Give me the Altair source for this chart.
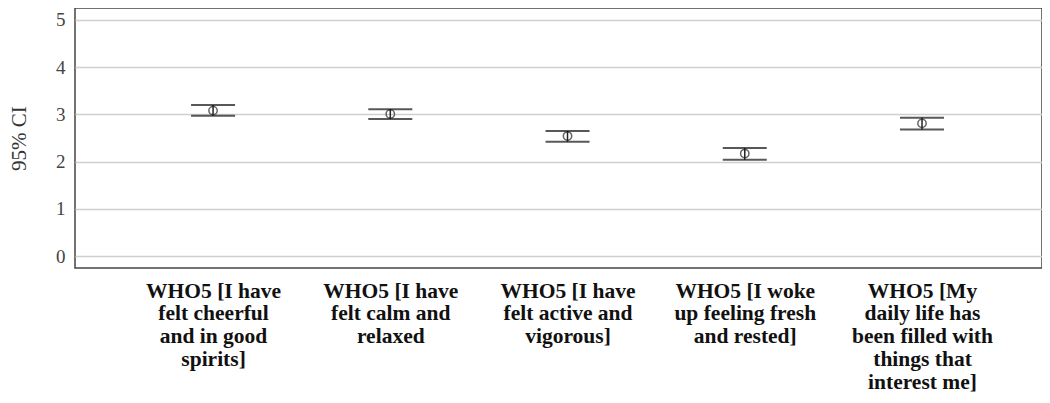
import altair as alt
import pandas as pd

items = [
    "WHO5 [I have|felt cheerful|and in good|spirits]",
    "WHO5 [I have|felt calm and|relaxed",
    "WHO5 [I have|felt active and|vigorous]",
    "WHO5 [I woke|up feeling fresh|and rested]",
    "WHO5 [My|daily life has|been filled with|things that|interest me]",
]
means = [3.08, 3.01, 2.54, 2.17, 2.81]
lower = [2.97, 2.90, 2.42, 2.04, 2.68]
upper = [3.20, 3.11, 2.65, 2.29, 2.93]
y_ticks = [0, 1, 2, 3, 4, 5]

SERIF = "Liberation Serif, Times New Roman, serif"

df = pd.DataFrame({"item": items, "mean": means, "lower": lower, "upper": upper})

x_enc = alt.X(
    "item:N",
    sort=items,
    title=None,
    scale=alt.Scale(type="point", padding=0.728, align=0.535),
    axis=alt.Axis(
        labelExpr="split(datum.label, '|')",
        labelAngle=0,
        labelFont=SERIF,
        labelFontWeight="bold",
        labelFontSize=21.5,
        labelLineHeight=22.8,
        labelColor="#111",
        labelPadding=12,
        labelBaseline="top",
        labelAlign="center",
        ticks=False,
        domain=False,
        grid=False,
        labelLimit=300,
    ),
)

y_scale = alt.Scale(domain=[-0.254, 5.254], nice=False, zero=False)

base = alt.Chart(df)

rule = base.mark_rule(color="#222", strokeWidth=1.5).encode(
    x=x_enc,
    y=alt.Y(
        "lower:Q",
        scale=y_scale,
        title="95% CI",
        axis=alt.Axis(
            values=y_ticks,
            ticks=False,
            domain=False,
            grid=True,
            gridColor="#cfcfcf",
            gridWidth=1.5,
            labelFont=SERIF,
            labelFontSize=19,
            labelColor="#444",
            labelPadding=10,
            titleFont=SERIF,
            titleFontSize=21,
            titleFontWeight="normal",
            titleColor="#333",
            titlePadding=26,
        ),
    ),
    y2="upper:Q",
)

cap_lo = base.mark_tick(color="#111", size=44, thickness=2, orient="horizontal").encode(
    x=alt.X("item:N", sort=items), y=alt.Y("lower:Q", scale=y_scale)
)
cap_hi = base.mark_tick(color="#111", size=44, thickness=2, orient="horizontal").encode(
    x=alt.X("item:N", sort=items), y=alt.Y("upper:Q", scale=y_scale)
)
pts = base.mark_point(shape="circle", filled=False, color="#222", size=70, strokeWidth=1.5).encode(
    x=alt.X("item:N", sort=items), y=alt.Y("mean:Q", scale=y_scale)
)

chart = (
    alt.layer(rule, cap_lo, cap_hi, pts)
    .properties(
        width=967,
        height=260,
        autosize=alt.AutoSizeParams(type="none"),
        padding={"left": 67, "top": 0, "right": 0, "bottom": 127},
        background="white",
    )
    .configure_view(stroke="#444", strokeWidth=1.5)
)

chart.save("out.html", embed_options={"renderer": "svg", "actions": False})
